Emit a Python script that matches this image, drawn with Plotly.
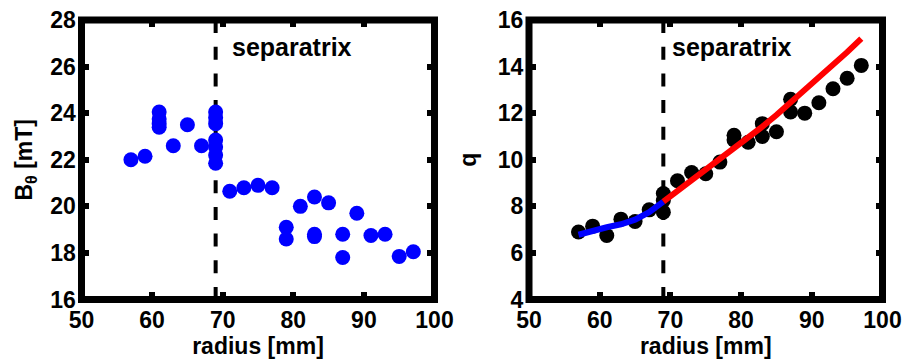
import plotly.graph_objects as go

# Left panel: poloidal field
r_b = [57, 59, 61, 61, 61, 61, 63, 65, 67, 69, 69, 69, 69, 69, 69, 69,
       71, 73, 75, 77, 79, 79, 81, 83, 83, 83, 85, 87, 87, 89, 91, 93, 95, 97]
b_theta = [22.0, 22.15, 24.05, 23.75, 23.55, 23.4, 22.6, 23.5, 22.6, 24.05, 23.8, 23.55, 22.85, 22.55, 22.2, 21.85,
           20.65, 20.8, 20.9, 20.8, 19.1, 18.6, 20.0, 20.4, 18.8, 18.7, 20.15, 18.8, 17.8, 19.7, 18.75, 18.8, 17.85, 18.05]

# Right panel: safety factor
r_q = [57, 59, 61, 63, 65, 67, 69, 69, 69, 71, 73, 75, 77, 79, 79, 81, 83, 83, 85, 87, 87, 89, 91, 93, 95, 97]
q_vals = [6.9, 7.15, 6.75, 7.45, 7.35, 7.85, 8.55, 8.25, 7.75, 9.1, 9.45, 9.4, 9.9, 11.05, 10.85, 10.75,
          11.55, 11.0, 11.2, 12.6, 12.05, 12.0, 12.45, 13.05, 13.5, 14.05]

# Fits
r_fit_in = [57, 59, 61, 63, 65, 67, 69]
q_fit_in = [6.78, 6.97, 7.1, 7.23, 7.43, 7.75, 8.2]
r_fit_out = [69, 71, 73, 75, 77, 79, 81, 83, 85, 87, 89, 91, 93, 95, 97]
q_fit_out = [8.2, 8.65, 9.1, 9.58, 10.05, 10.5, 10.95, 11.42, 11.92, 12.45, 12.98, 13.52, 14.07, 14.62, 15.2]

separatrix_r = 69
x_ticks = [50, 60, 70, 80, 90, 100]
yb_ticks = [16, 18, 20, 22, 24, 26, 28]
yq_ticks = [4, 6, 8, 10, 12, 14, 16]

FONT = "Liberation Sans"
SIZE = 23
fig = go.Figure()

dash_line = dict(color="black", width=4, dash="13px,13.7px")
fig.add_trace(go.Scatter(x=[separatrix_r, separatrix_r], y=[yb_ticks[-1], yb_ticks[0]], mode="lines",
                         line=dash_line, xaxis="x", yaxis="y", showlegend=False))
fig.add_trace(go.Scatter(x=r_b, y=b_theta, mode="markers",
                         marker=dict(color="#0000ff", size=15, line=dict(width=0)),
                         xaxis="x", yaxis="y", showlegend=False))

fig.add_trace(go.Scatter(x=[separatrix_r, separatrix_r], y=[yq_ticks[-1], yq_ticks[0]], mode="lines",
                         line=dash_line, xaxis="x2", yaxis="y2", showlegend=False))
fig.add_trace(go.Scatter(x=r_q, y=q_vals, mode="markers",
                         marker=dict(color="black", size=15, line=dict(width=0)),
                         xaxis="x2", yaxis="y2", showlegend=False))
fig.add_trace(go.Scatter(x=r_fit_in, y=q_fit_in, mode="lines",
                         line=dict(color="#0000ff", width=6),
                         xaxis="x2", yaxis="y2", showlegend=False))
fig.add_trace(go.Scatter(x=r_fit_out, y=q_fit_out, mode="lines",
                         line=dict(color="#ff0000", width=6),
                         xaxis="x2", yaxis="y2", showlegend=False))

font = dict(family=FONT, size=SIZE, color="black")
axcommon = dict(showline=True, linecolor="black", linewidth=1, mirror="ticks",
                ticks="inside", ticklen=7, tickwidth=6, tickcolor="black", automargin=False,
                ticklabeloverflow="allow",
                showgrid=False, zeroline=False, tickfont=font)


def bold(vals):
    return [f"<b>{v}</b>" for v in vals]


# page body has an 8px margin, so the figure is 8px smaller than the window
fig.update_layout(
    width=903, height=352,
    margin=dict(l=0, r=0, t=0, b=0),
    plot_bgcolor="white", paper_bgcolor="white",
    xaxis=dict(domain=[0.08140, 0.47231], range=[50, 100], tickvals=x_ticks, ticktext=bold(x_ticks),
               title=dict(text="<b>radius [mm]</b>", font=font, standoff=2), anchor="y", **axcommon),
    yaxis=dict(domain=[0.17188, 0.96591], range=[16, 28], tickvals=yb_ticks, ticktext=bold(yb_ticks),
               title=dict(text="<b>B<sub>θ</sub> [mT]</b>", font=font, standoff=11), anchor="x", **axcommon),
    xaxis2=dict(domain=[0.57697, 0.96844], range=[50, 100], tickvals=x_ticks, ticktext=bold(x_ticks),
                title=dict(text="<b>radius [mm]</b>", font=font, standoff=2), anchor="y2", **axcommon),
    yaxis2=dict(domain=[0.17188, 0.96591], range=[4, 16], tickvals=yq_ticks, ticktext=bold(yq_ticks),
                title=dict(text="<b>q</b>", font=font, standoff=14), anchor="x2", **axcommon),
    shapes=[
        dict(type="rect", xref="x domain", yref="y domain", x0=0, x1=1, y0=0, y1=1,
             line=dict(color="black", width=7), layer="above"),
        dict(type="rect", xref="x2 domain", yref="y2 domain", x0=0, x1=1, y0=0, y1=1,
             line=dict(color="black", width=7), layer="above"),
    ],
    annotations=[
        dict(x=71.0, y=26.85, xref="x", yref="y", xanchor="left", text="<b>separatrix</b>",
             showarrow=False, font=dict(family=FONT, size=25, color="black")),
        dict(x=70.0, y=14.85, xref="x2", yref="y2", xanchor="left", text="<b>separatrix</b>",
             showarrow=False, font=dict(family=FONT, size=25, color="black")),
    ],
)

fig.write_html("out.html")
